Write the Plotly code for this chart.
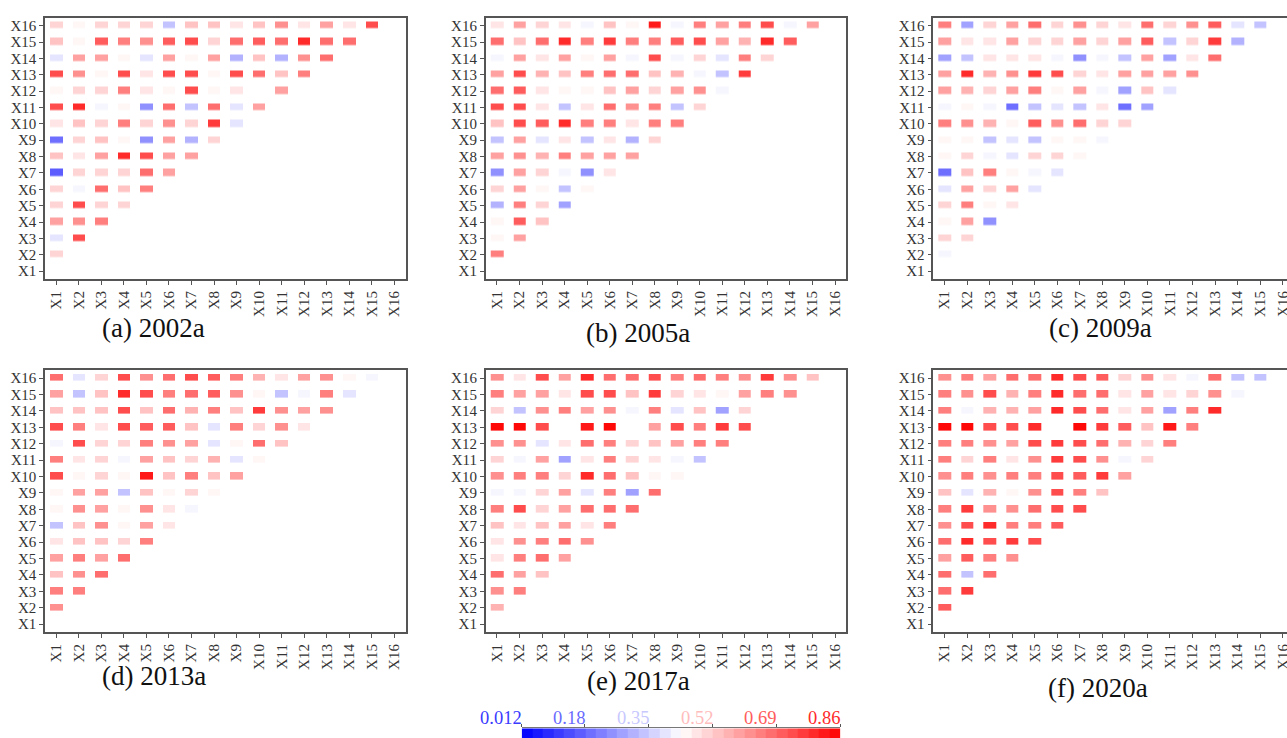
import plotly.graph_objects as go

labels = [f"X{i}" for i in range(1, 17)]
captions = ["(a) 2002a", "(b) 2005a", "(c) 2009a", "(d) 2013a", "(e) 2017a", "(f) 2020a"]

# Rows run X2 ... X16; each row holds columns X1 ... X(row-1). None = no cell drawn.
panel_a = [
 [.52],
 [.38,.72],
 [.58,.63,.64],
 [.52,.74,.52,.52],
 [.52,.41,.68,.54,.65],
 [.17,.52,.52,.52,.67,.58],
 [.54,.49,.60,.78,.72,.58,.60],
 [.20,.52,.54,.46,.26,.60,.30,.52],
 [.49,.54,.52,.66,.52,.62,.52,.75,.38],
 [.74,.78,.41,.46,.24,.69,.35,.67,.38,.58],
 [.46,.52,.52,.64,.49,.46,.72,.46,.49,None,.60],
 [.74,.62,.46,.74,.49,.72,.74,.46,.74,.67,.54,.66],
 [.38,.58,.58,.46,.38,.58,.46,.58,.30,.54,.30,.62,.67],
 [.54,.46,.70,.66,.62,.70,.72,.52,.67,.70,.67,.78,.67,.67],
 [.52,.46,.52,.52,.52,.35,.54,.54,.49,.54,.62,.49,.58,.49,.74],
]
panel_b = [
 [.64],
 [.46,.58],
 [.46,.70,.54],
 [.30,.66,.52,.29],
 [.52,.58,.46,.35,.46],
 [.24,.58,.52,.41,.24,.49],
 [.58,.62,.56,.66,.59,.58,.58],
 [.33,.60,.38,.49,.35,.49,.32,.52],
 [.54,.74,.71,.78,.65,.64,.49,.64,.64],
 [.72,.72,.49,.35,.49,.67,.62,.64,.35,.52],
 [.67,.71,.49,.46,.46,.54,.58,.52,.58,.62,.41],
 [.58,.72,.55,.54,.64,.67,.67,.54,.55,.41,.35,.75],
 [.41,.58,.49,.58,.46,.58,.41,.72,.41,.52,.38,.66,.52],
 [.69,.54,.67,.80,.64,.75,.64,.64,.70,.73,.60,.57,.78,.71],
 [.49,.60,.52,.49,.41,.54,.46,.81,.41,.66,.60,.64,.72,.41,.60],
]
panel_c = [
 [.41],
 [.52,.52],
 [.46,.58,.24],
 [.52,.64,.46,.49],
 [.38,.58,.52,.58,.38],
 [.20,.54,.65,.46,.41,.38],
 [.46,.52,.41,.38,.52,.52,.46],
 [.46,.46,.35,.38,.35,.46,.46,.41],
 [.64,.62,.55,.46,.70,.61,.67,.52,.52],
 [.41,.46,.41,.19,.35,.38,.35,.49,.19,.29],
 [.58,.55,.52,.58,.65,.46,.58,.41,.29,.54,.38],
 [.58,.80,.55,.61,.75,.72,.52,.49,.58,.58,.58,.62],
 [.29,.33,.49,.49,.49,.41,.24,.41,.33,.58,.27,.49,.69],
 [.58,.49,.49,.58,.52,.52,.58,.52,.58,.70,.33,.52,.76,.32],
 [.64,.29,.52,.58,.67,.52,.63,.52,.49,.67,.52,.62,.70,.38,.35],
]
panel_d = [
 [.63],
 [.64,.64],
 [.54,.62,.69],
 [.58,.64,.58,.68],
 [.49,.54,.54,.52,.66],
 [.35,.54,.62,.46,.58,.49],
 [.46,.62,.58,.46,.61,.49,.41],
 [.46,.58,.58,.35,.54,.46,.52,.46],
 [.72,.46,.52,.46,.82,.54,.66,.54,.58],
 [.64,.49,.52,.41,.58,.54,.52,.57,.38,.46],
 [.41,.73,.52,.52,.66,.62,.58,.38,.46,.67,.54],
 [.73,.66,.49,.74,.70,.70,.54,.38,.66,.52,.61,.49],
 [.54,.54,.54,.72,.54,.69,.57,.65,.54,.75,.63,.58,.61],
 [.58,.33,.54,.80,.72,.64,.67,.71,.62,.46,.35,.41,.64,.38],
 [.69,.38,.52,.74,.63,.67,.72,.71,.66,.57,.49,.58,.62,.46,.41],
]
panel_e = [
 [.57],
 [.61,.64],
 [.67,.58,.54],
 [.49,.66,.69,.58],
 [.49,.63,.66,.69,.61],
 [.54,.49,.54,.58,.49,.65],
 [.64,.72,.52,.58,.69,.69,.69],
 [.41,.41,.52,.58,.38,.65,.29,.69],
 [.61,.66,.66,.52,.80,.68,.54,.46,.46],
 [.52,.41,.58,.29,.49,.65,.52,.49,.41,.35],
 [.63,.63,.38,.49,.69,.65,.52,.54,.59,.64,.66],
 [.86,.85,.72,None,.83,.85,None,.58,.74,.64,.76,.74],
 [.52,.33,.61,.66,.58,.63,.41,.66,.38,.54,.27,.52],
 [.66,.58,.58,.49,.72,.72,.54,.76,.52,.49,.46,.58,.66,.63],
 [.61,.49,.73,.58,.78,.69,.69,.73,.66,.69,.66,.63,.76,.63,.54],
]
panel_f = [
 [.71],
 [.69,.75],
 [.68,.35,.67],
 [.58,.71,.64,.62],
 [.69,.80,.72,.76,.72],
 [.63,.74,.78,.65,.64,.71],
 [.65,.76,.63,.61,.68,.74,.74],
 [.54,.38,.57,.46,.61,.72,.66,.54],
 [.63,.65,.61,.65,.65,.74,.71,.77,.58],
 [.65,.52,.66,.49,.62,.76,.74,.62,.41,.52],
 [.66,.65,.61,.58,.72,.77,.74,.68,.57,.52,.65],
 [.86,.85,.72,.74,.78,None,.85,.76,.71,.54,.83,.65],
 [.65,.41,.57,.57,.60,.80,.74,.69,.49,.58,.27,.64,.80],
 [.66,.63,.74,.57,.65,.80,.69,.68,.49,.58,.49,.52,.63,.41],
 [.61,.66,.58,.69,.69,.78,.74,.71,.52,.61,.49,.41,.68,.35,.35],
]
panels = [panel_a, panel_b, panel_c, panel_d, panel_e, panel_f]

cbar_vals = [0.012, 0.18, 0.35, 0.52, 0.69, 0.86]
cbar_text = ["0.012", "0.18", "0.35", "0.52", "0.69", "0.86"]
cbar_cols = ["#3a3aff", "#6a6aff", "#c8c8ff", "#ffbcbc", "#ff5c5c", "#ff2a2a"]
bar_levels = [0.026,0.054,0.083,0.111,0.139,0.167,0.196,0.224,0.252,0.280,
              0.309,0.337,0.365,0.394,0.422,0.450,0.478,0.507,0.535,0.563,
              0.592,0.620,0.648,0.676,0.705,0.733,0.761,0.790,0.818,0.846]

W, H = 1295, 738
FONT = "Liberation Serif"
ZMIN, ZMAX = 0.012, 0.86

# stepped blue-white-red scale, as in the source's segmented bar
N = 30
cs = []
for i in range(N):
    t = (i + 0.5) / N
    if t < 0.5:
        c = int(255 * t / 0.5)
        col = f"rgb({c},{c},255)"
    else:
        c = int(255 * (1 - t) / 0.5)
        col = f"rgb(255,{c},{c})"
    cs += [[i / N, col], [(i + 1) / N, col]]

left = [45, 485.7, 933.3]
top_y = [(17.5, 279.3), (370, 632.3)]
pw = 360.6
cap_pos = [(153, 328), (638, 333), (1100, 328), (154, 676), (638, 681), (1098, 688)]

fig = go.Figure()
layout = {}
for k, rows in enumerate(panels):
    r, c = k // 3, k % 3
    n = k + 1
    xa, ya = f"xaxis{n}", f"yaxis{n}"
    z = [[None] * 16]
    for row in rows:
        z.append(row + [None] * (16 - len(row)))
    fig.add_trace(go.Heatmap(x=labels, y=labels, z=z, coloraxis="coloraxis",
                             xgap=10, ygap=9.4, xaxis=f"x{n}", yaxis=f"y{n}",
                             hoverongaps=False))
    t0, t1 = top_y[r]
    common = dict(type="category", showgrid=False, zeroline=False, showline=True, mirror=True,
                  linecolor="#555555", linewidth=1.5, ticks="outside", ticklen=4,
                  tickcolor="#555555", tickwidth=1, range=[-0.5, 15.5],
                  tickfont=dict(family=FONT, size=15, color="#333333"))
    layout[xa] = dict(common, domain=[left[c] / W, (left[c] + pw) / W], anchor=f"y{n}",
                      tickangle=-90, tickmode="array", tickvals=labels, ticktext=labels)
    layout[ya] = dict(common, domain=[1 - t1 / H, 1 - t0 / H], anchor=f"x{n}",
                      tickmode="array", tickvals=labels, ticktext=labels)

# colour scale strip along the bottom, on its own value axis
fig.add_trace(go.Heatmap(x=bar_levels, y=[0], z=[bar_levels], coloraxis="coloraxis",
                         xaxis="x7", yaxis="y7", hoverinfo="skip"))
layout["xaxis7"] = dict(domain=[521.7 / W, 840.2 / W], anchor="y7", side="top", range=[ZMIN, ZMAX],
                        showgrid=False, zeroline=False, showline=True, linecolor="#777777", linewidth=1,
                        ticks="outside", ticklen=3, tickcolor="#555555", tickwidth=1,
                        tickmode="array", tickvals=cbar_vals, showticklabels=False)
layout["yaxis7"] = dict(domain=[1 - 737.9 / H, 1 - 728.3 / H], anchor="x7", visible=False, range=[-0.5, 0.5])

annotations = [dict(text=t, x=p[0] / W, y=1 - p[1] / H, xref="paper", yref="paper",
                    showarrow=False, xanchor="center", yanchor="middle",
                    font=dict(family=FONT, size=27, color="#111111"))
               for t, p in zip(captions, cap_pos)]
annotations += [dict(text=t, x=v, y=1 - 718 / H, xref="x7", yref="paper", showarrow=False,
                     xanchor="right", yanchor="middle", borderpad=0, borderwidth=0,
                     font=dict(family=FONT, size=18.5, color=col))
                for t, v, col in zip(cbar_text, cbar_vals, cbar_cols)]

fig.update_layout(
    **layout,
    width=W, height=H,
    margin=dict(l=0, r=0, t=0, b=0, autoexpand=False),
    paper_bgcolor="white", plot_bgcolor="white",
    annotations=annotations,
    coloraxis=dict(cmin=ZMIN, cmax=ZMAX, colorscale=cs, showscale=False),
)
fig.write_html("out.html", config={"displayModeBar": False},
               post_script="document.documentElement.style.overflow='hidden';"
                           "document.body.style.overflow='hidden';document.body.style.margin='0';")
